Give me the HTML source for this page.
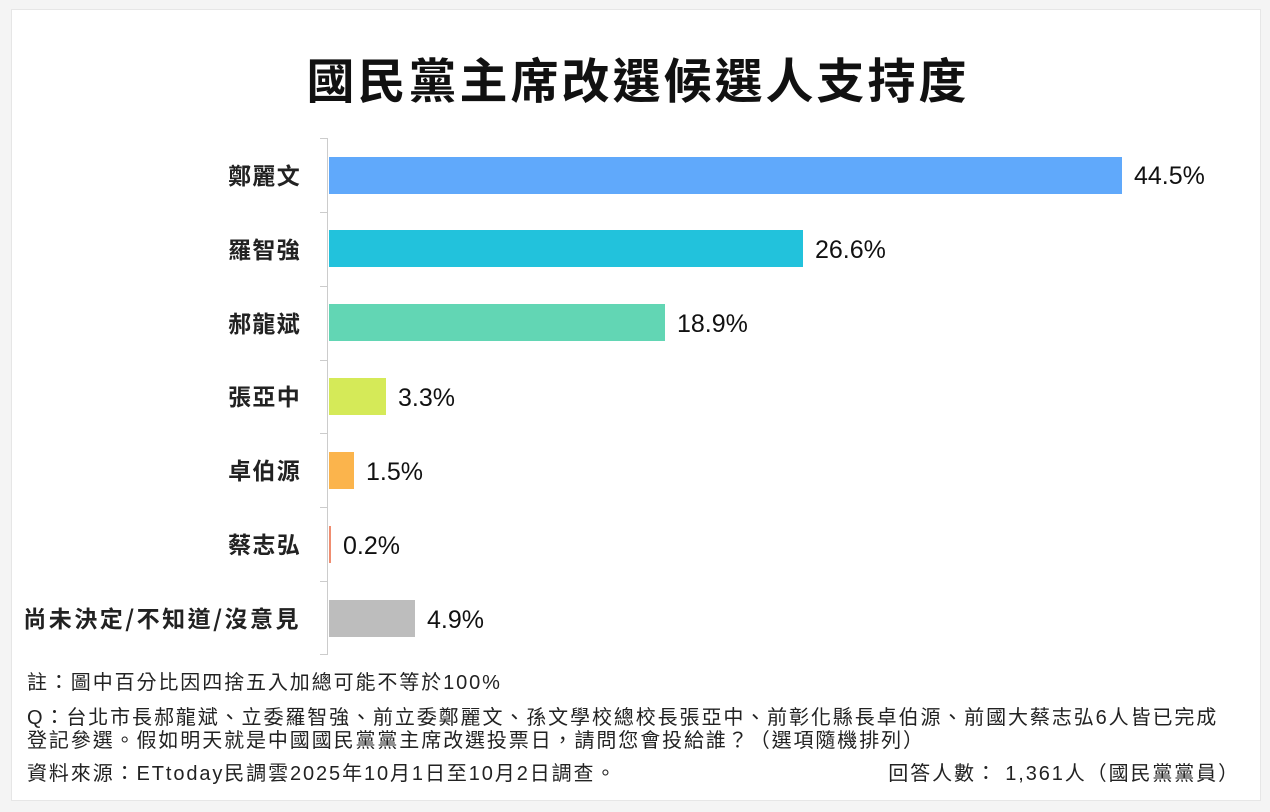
<!DOCTYPE html>
<html><head><meta charset="utf-8"><style>
body{margin:0;width:1270px;height:812px;background:#f4f4f4;font-family:"Liberation Sans","Noto Sans CJK TC",sans-serif;position:relative;overflow:hidden}
.card{position:absolute;left:11px;top:9px;width:1248px;height:790px;background:#fff;border:1px solid #e6e6e6}
.t{position:absolute;white-space:nowrap;color:#111}
.title{left:0;width:1270px;text-align:center;top:42px;font-size:48px;font-weight:bold;font-family:"Noto Sans CJK TC",sans-serif;letter-spacing:3px;padding-left:3px}
.lab{right:970px;font-size:23px;font-weight:bold;font-family:"Noto Sans CJK TC",sans-serif;color:#222;letter-spacing:1.3px;margin-right:-1px}
.val{font-size:25px;color:#111}
.bar{position:absolute;left:329px;height:37px}
.note{font-size:20px;color:#222;left:27px;letter-spacing:1.9px}
</style></head><body>
<div class="card"></div>
<div class="t title">國民黨主席改選候選人支持度</div>
<div style="position:absolute;left:327px;top:138px;width:1px;height:517px;background:#ccc"></div>
<div style="position:absolute;left:320px;top:138px;width:8px;height:1px;background:#ccc"></div>
<div style="position:absolute;left:320px;top:212px;width:8px;height:1px;background:#ccc"></div>
<div style="position:absolute;left:320px;top:286px;width:8px;height:1px;background:#ccc"></div>
<div style="position:absolute;left:320px;top:360px;width:8px;height:1px;background:#ccc"></div>
<div style="position:absolute;left:320px;top:433px;width:8px;height:1px;background:#ccc"></div>
<div style="position:absolute;left:320px;top:507px;width:8px;height:1px;background:#ccc"></div>
<div style="position:absolute;left:320px;top:581px;width:8px;height:1px;background:#ccc"></div>
<div style="position:absolute;left:320px;top:654px;width:8px;height:1px;background:#ccc"></div>

<div class="bar" style="top:157px;width:793px;background:#60a9fb"></div>
<div class="bar" style="top:230px;width:474px;background:#22c2dc"></div>
<div class="bar" style="top:304px;width:336px;background:#62d6b4"></div>
<div class="bar" style="top:378px;width:57px;background:#d5ea58"></div>
<div class="bar" style="top:452px;width:25px;background:#fbb44c"></div>
<div class="bar" style="top:526px;width:2px;background:#f08d70"></div>
<div class="bar" style="top:600px;width:86px;background:#bdbdbd"></div>

<div class="t lab" style="top:157px">鄭麗文</div>
<div class="t lab" style="top:231px">羅智強</div>
<div class="t lab" style="top:305px">郝龍斌</div>
<div class="t lab" style="top:378px">張亞中</div>
<div class="t lab" style="top:452px">卓伯源</div>
<div class="t lab" style="top:526px">蔡志弘</div>
<div class="t lab" style="top:600px;letter-spacing:2.5px">尚未決定/不知道/沒意見</div>

<div class="t val" style="left:1134px;top:162px">44.5%</div>
<div class="t val" style="left:815px;top:236px">26.6%</div>
<div class="t val" style="left:677px;top:310px">18.9%</div>
<div class="t val" style="left:398px;top:384px">3.3%</div>
<div class="t val" style="left:366px;top:458px">1.5%</div>
<div class="t val" style="left:343px;top:532px">0.2%</div>
<div class="t val" style="left:427px;top:606px">4.9%</div>

<div class="t note" style="top:666px">註：圖中百分比因四捨五入加總可能不等於100%</div>
<div class="t note" style="top:701px">Q：台北市長郝龍斌、立委羅智強、前立委鄭麗文、孫文學校總校長張亞中、前彰化縣長卓伯源、前國大蔡志弘6人皆已完成</div>
<div class="t note" style="top:724px">登記參選。假如明天就是中國國民黨黨主席改選投票日，請問您會投給誰？（選項隨機排列）</div>
<div class="t note" style="top:757px">資料來源：ETtoday民調雲2025年10月1日至10月2日調查。</div>
<div class="t note" style="top:757px;left:auto;right:30px">回答人數： 1,361人（國民黨黨員）</div>
</body></html>
